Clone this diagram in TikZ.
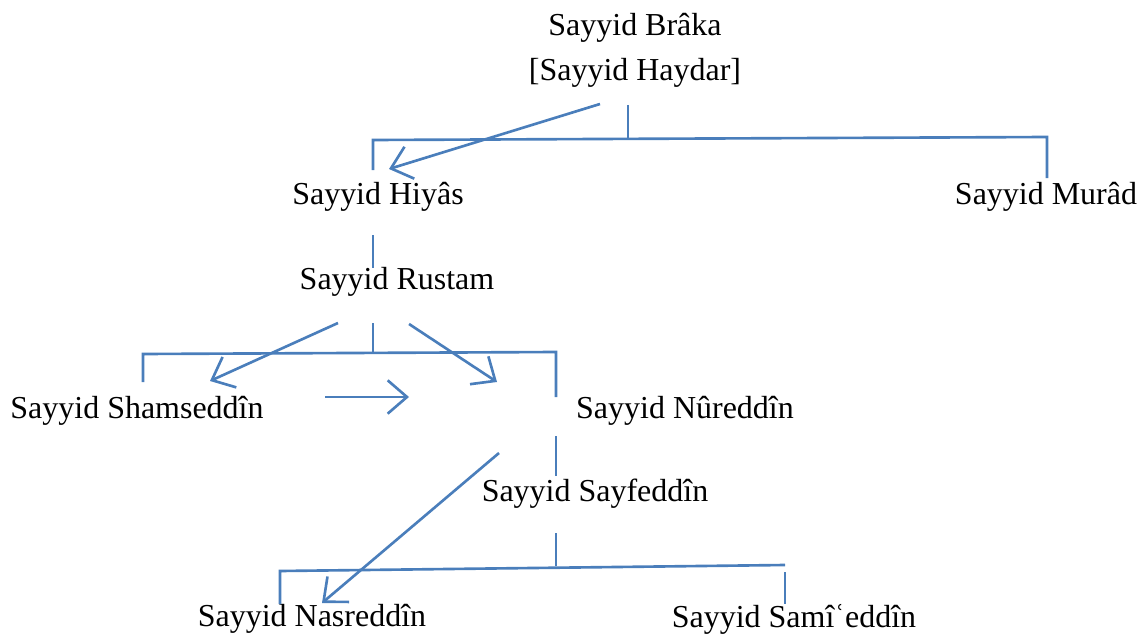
\documentclass[tikz,border=0pt]{standalone}
\usepackage{fontspec}
\setmainfont{Liberation Serif}
\usetikzlibrary{arrows.meta, positioning, calc}
\definecolor{lineBlue}{RGB}{74,126,187}

\begin{document}
\begin{tikzpicture}[x=0.02cm, y=-0.02cm,
    person/.style={font=\fontsize{18.2}{25.5}\selectfont, inner sep=0pt, align=center},
    link/.style={lineBlue, line width=1.5pt},
    pointer/.style={link, -{Straight Barb[length=11pt, width=19pt, line width=1.5pt]}}]
  \useasboundingbox (0,0) rectangle (1142,635);

  % people
  \node[person] (braka) at (635,50) {Sayyid Brâka\\{[}Sayyid Haydar{]}};
  \node[person] (hiyas) at (378,197) {Sayyid Hiyâs};
  \node[person] (murad) at (1046,197) {Sayyid Murâd};
  \node[person] (rustam) at (397,282) {Sayyid Rustam};
  \node[person] (shams) at (137,411) {Sayyid Shamseddîn};
  \node[person] (nur) at (685,411) {Sayyid Nûreddîn};
  \node[person] (sayf) at (595,494) {Sayyid Sayfeddîn};
  \node[person] (nasr) at (312,619) {Sayyid Nasreddîn};
  \node[person] (sami) at (794,619) {Sayyid Samîʿeddîn};

  % brackets
  \coordinate (brakaStem) at (628,105);
  \coordinate (brakaJoin) at (628,139);
  \coordinate (hiyasCorner) at (373,140);
  \coordinate (muradCorner) at (1047,137);
  \coordinate (hiyasTop) at (373,170);
  \coordinate (muradTop) at (1047,178);
  \draw[link] (brakaStem) -- (brakaJoin);
  \draw[link] (hiyasTop) -- (hiyasCorner) -- (muradCorner) -- (muradTop);

  \coordinate (hiyasStem) at (373,235);
  \coordinate (rustamTop) at (373,268);
  \draw[link] (hiyasStem) -- (rustamTop);

  \coordinate (rustamStem) at (373,323);
  \coordinate (rustamJoin) at (373,353);
  \coordinate (shamsCorner) at (143,354);
  \coordinate (nurCorner) at (556,352);
  \coordinate (shamsTop) at (143,382);
  \coordinate (nurTop) at (556,397);
  \draw[link] (rustamStem) -- (rustamJoin);
  \draw[link] (shamsTop) -- (shamsCorner) -- (nurCorner) -- (nurTop);

  \coordinate (nurStem) at (556,436);
  \coordinate (sayfTop) at (556,476);
  \draw[link] (nurStem) -- (sayfTop);

  \coordinate (sayfStem) at (556,533);
  \coordinate (sayfJoin) at (556,566);
  \coordinate (nasrCorner) at (280,571);
  \coordinate (samiCorner) at (785,565);
  \coordinate (nasrTop) at (280,604);
  \coordinate (samiTop) at (785,604);
  \coordinate (samiGap) at (785,572);
  \draw[link] (sayfStem) -- (sayfJoin);
  \draw[link] (nasrTop) -- (nasrCorner) -- (samiCorner);
  \draw[link] (samiGap) -- (samiTop);

  % succession arrows
  \coordinate (a1s) at (600,104);
  \coordinate (a1e) at (389,169);
  \draw[pointer] (a1s) -- (a1e);
  \coordinate (a2s) at (338,323);
  \coordinate (a2e) at (210,381);
  \draw[pointer] (a2s) -- (a2e);
  \coordinate (a3s) at (409,324);
  \coordinate (a3e) at (497,382);
  \draw[pointer] (a3s) -- (a3e);
  \coordinate (a4s) at (325,397);
  \coordinate (a4e) at (409,397);
  \draw[pointer] (a4s) -- (a4e);
  \coordinate (a5s) at (499,453);
  \coordinate (a5e) at (322,603);
  \draw[pointer] (a5s) -- (a5e);
\end{tikzpicture}
\end{document}
